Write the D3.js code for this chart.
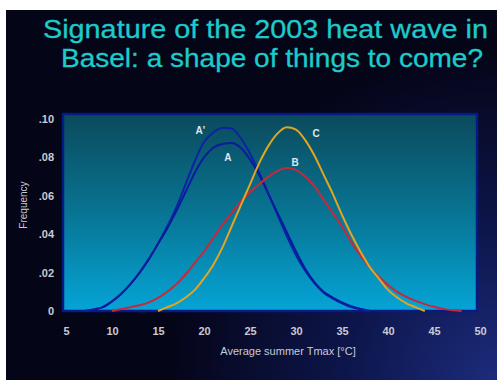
<!DOCTYPE html>
<html>
<head>
<meta charset="utf-8">
<script src="https://cdn.jsdelivr.net/npm/d3@7/dist/d3.min.js"></script>
<style>
  html, body { margin: 0; padding: 0; background: #ffffff; }
  svg { display: block; }
</style>
</head>
<body>
<svg id="chart" width="497" height="380"></svg>
<script>
// ---- data ----
const titleLines = ["Signature of the 2003 heat wave in", "Basel: a shape of things to come?"];
const xTicks = [5, 10, 15, 20, 25, 30, 35, 40, 45, 50];
const yTicks = [0, 0.02, 0.04, 0.06, 0.08, 0.10];
const yTickLabels = ["0", ".02", ".04", ".06", ".08", ".10"];
const xTitle = "Average summer Tmax [°C]";
const yTitle = "Frequency";

const tempA = [7,8,9,10,11,12,13,14,15,16,17,18,19,20,21,22,23,24,25,26,27,28,29,30,31,32,33,34,35,36,37,38];
const freqAprime = [0,0.0008,0.002,0.005,0.009,0.014,0.020,0.027,0.035,0.044,0.054,0.066,0.078,0.088,0.093,0.0955,0.095,0.090,0.082,0.072,0.061,0.050,0.039,0.029,0.021,0.0145,0.0095,0.0065,0.004,0.002,0.001,0];
const freqA      = [0,0.0008,0.002,0.005,0.009,0.014,0.020,0.027,0.035,0.043,0.052,0.062,0.072,0.080,0.085,0.087,0.0875,0.085,0.079,0.071,0.061,0.051,0.041,0.031,0.022,0.015,0.010,0.007,0.0045,0.0025,0.001,0];

const tempB = [10,11,12,13,14,15,16,17,18,19,20,21,22,23,24,25,26,27,28,29,30,31,32,33,34,35,36,37,38,39,40,41,42,43,44,45,46,47,48];
const freqB = [0,0.001,0.002,0.003,0.0045,0.0068,0.010,0.014,0.019,0.025,0.031,0.038,0.045,0.051,0.057,0.062,0.066,0.070,0.073,0.0745,0.0735,0.070,0.065,0.058,0.051,0.044,0.036,0.029,0.023,0.018,0.0135,0.010,0.0074,0.0053,0.0036,0.0022,0.0011,0.0004,0];

const tempC = [15,16,17,18,19,20,21,22,23,24,25,26,27,28,29,30,31,32,33,34,35,36,37,38,39,40,41,42,43,44];
const freqC = [0,0.002,0.004,0.007,0.011,0.017,0.024,0.033,0.044,0.055,0.066,0.077,0.086,0.0925,0.0957,0.0945,0.089,0.081,0.071,0.061,0.050,0.040,0.031,0.023,0.017,0.011,0.007,0.004,0.002,0];

const seriesNames = ["A'", "A", "B", "C"];
const labelX = [19.6, 22.6, 29.9, 32.2];
const labelY = [0.094, 0.080, 0.0775, 0.0925];

// ---- drawing ----
const svg = d3.select("#chart");
const W = 497, H = 380;
const defs = svg.append("defs");

const bg = defs.append("radialGradient").attr("id", "bgGrad")
  .attr("gradientUnits", "userSpaceOnUse")
  .attr("cx", 497).attr("cy", 380).attr("r", 330);
bg.append("stop").attr("offset", "0%").attr("stop-color", "#1c2c7c");
bg.append("stop").attr("offset", "45%").attr("stop-color", "#0d164c");
bg.append("stop").attr("offset", "100%").attr("stop-color", "#050518");

const pg = defs.append("linearGradient").attr("id", "plotGrad")
  .attr("x1", 0).attr("y1", 0).attr("x2", 0).attr("y2", 1);
pg.append("stop").attr("offset", "0%").attr("stop-color", "#0b4a5c");
pg.append("stop").attr("offset", "50%").attr("stop-color", "#087493");
pg.append("stop").attr("offset", "100%").attr("stop-color", "#05a4d6");

// dark backdrop (white margin at top/left as in reference)
svg.append("rect").attr("x", 6).attr("y", 10).attr("width", W - 6).attr("height", H - 10)
  .attr("fill", "url(#bgGrad)");

// title
svg.append("g").selectAll("text").data(titleLines).join("text")
  .attr("x", (d, i) => i === 0 ? 43 : 61)
  .attr("y", (d, i) => i === 0 ? 38 : 67)
  .attr("textLength", (d, i) => i === 0 ? 445 : 422)
  .attr("lengthAdjust", "spacingAndGlyphs")
  .attr("font-family", "Liberation Sans, Arial, sans-serif")
  .attr("font-size", 26)
  .attr("fill", "#1ccbcb")
  .attr("stroke", "#1ccbcb").attr("stroke-width", 0.3)
  .text(d => d);

// scales
const x = d3.scaleLinear().domain([5, 50]).range([66, 480]);
const y = d3.scaleLinear().domain([0, 0.10]).range([311, 119]);

const plotL = 63, plotR = 477, plotT = 114, plotB = 311;

svg.append("rect")
  .attr("x", plotL).attr("y", plotT)
  .attr("width", plotR - plotL).attr("height", plotB - plotT)
  .attr("fill", "url(#plotGrad)")
  .attr("stroke", "#061a86").attr("stroke-width", 2.5);

// curves
const line = d3.line().x(d => x(d[0])).y(d => y(d[1])).curve(d3.curveMonotoneX);
const series = [
  { t: tempA, f: freqAprime, color: "#0d23a6" },
  { t: tempA, f: freqA, color: "#0a1c9c" },
  { t: tempB, f: freqB, color: "#c8283a" },
  { t: tempC, f: freqC, color: "#e4a41e" }
];
svg.append("g").selectAll("path").data(series).join("path")
  .attr("d", s => line(d3.zip(s.t, s.f)))
  .attr("fill", "none")
  .attr("stroke", s => s.color)
  .attr("stroke-width", 2)
  .attr("stroke-linejoin", "round");

// curve labels
svg.append("g").selectAll("text").data(seriesNames).join("text")
  .attr("x", (d, i) => x(labelX[i]))
  .attr("y", (d, i) => y(labelY[i]))
  .attr("text-anchor", "middle")
  .attr("dominant-baseline", "central")
  .attr("font-family", "Liberation Sans, Arial, sans-serif")
  .attr("font-weight", "bold")
  .attr("font-size", 10)
  .attr("fill", "#dfe4ee")
  .text(d => d);

// axes
const axisColor = "#c9cbd4";
const xAxis = svg.append("g").attr("transform", `translate(0,${plotB + 13})`)
  .call(d3.axisBottom(x).tickValues(xTicks).tickSize(0).tickFormat(d3.format("d")));
xAxis.select(".domain").remove();
xAxis.selectAll("text")
  .attr("font-family", "Liberation Sans, Arial, sans-serif")
  .attr("font-weight", "bold").attr("font-size", 11).attr("fill", axisColor);

const yAxis = svg.append("g").attr("transform", `translate(${plotL - 6},0)`)
  .call(d3.axisLeft(y).tickValues(yTicks).tickSize(0).tickFormat((d, i) => yTickLabels[i]));
yAxis.select(".domain").remove();
yAxis.selectAll("text")
  .attr("font-family", "Liberation Sans, Arial, sans-serif")
  .attr("font-weight", "bold").attr("font-size", 11).attr("fill", axisColor);

svg.append("text")
  .attr("x", 288).attr("y", 355)
  .attr("text-anchor", "middle")
  .attr("font-family", "Liberation Sans, Arial, sans-serif")
  .attr("font-size", 11).attr("fill", axisColor)
  .text(xTitle);

svg.append("text")
  .attr("transform", "translate(27,205) rotate(-90)")
  .attr("text-anchor", "middle")
  .attr("font-family", "Liberation Sans, Arial, sans-serif")
  .attr("font-size", 10).attr("fill", axisColor)
  .text(yTitle);
</script>
</body>
</html>
